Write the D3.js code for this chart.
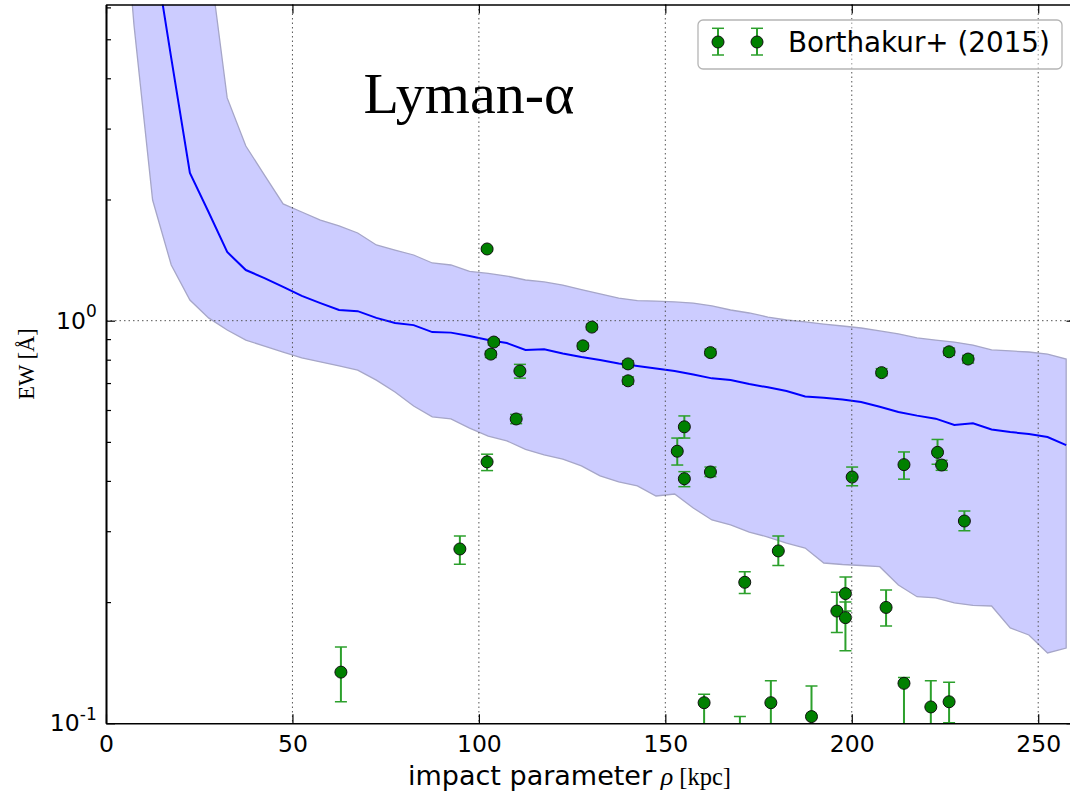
<!DOCTYPE html>
<html><head><meta charset="utf-8">
<script src="https://cdn.jsdelivr.net/npm/d3@7"></script>
<style>body{margin:0;background:#fff}</style>
</head><body><svg id="c" width="1070" height="798"></svg>
<script>
// Model curve: impact parameter grid (kpc), median EW and band edges (Å)
const rho = [2.5,7.5,12.5,17.5,22.5,27.5,32.5,37.5,42.5,47.5,52.5,57.5,62.5,67.5,72.5,77.5,82.5,87.5,92.5,97.5,102.5,107.5,112.5,117.5,122.5,127.5,132.5,137.5,142.5,147.5,152.5,157.5,162.5,167.5,172.5,177.5,182.5,187.5,192.5,197.5,202.5,207.5,212.5,217.5,222.5,227.5,232.5,237.5,242.5,247.5,252.5,257.5];
const ewMedian = [40,20,8.77,4.49,2.327,1.862,1.481,1.336,1.276,1.213,1.152,1.106,1.063,1.056,1.016,0.987,0.975,0.937,0.934,0.916,0.895,0.880,0.846,0.849,0.829,0.812,0.799,0.783,0.772,0.761,0.750,0.735,0.719,0.712,0.696,0.683,0.669,0.648,0.644,0.637,0.628,0.611,0.593,0.581,0.571,0.551,0.556,0.537,0.529,0.523,0.514,0.491];
const ewUpper = [80,60,40,25,14.8,8.18,3.575,2.716,2.30,1.950,1.862,1.778,1.719,1.651,1.542,1.498,1.456,1.391,1.375,1.325,1.310,1.291,1.262,1.248,1.226,1.195,1.165,1.138,1.122,1.119,1.113,1.106,1.088,1.063,1.045,1.021,1.004,0.993,0.981,0.970,0.959,0.943,0.927,0.906,0.895,0.885,0.870,0.846,0.841,0.836,0.826,0.803];
const ewLower = [20,5.43,1.994,1.375,1.125,1.016,0.948,0.895,0.865,0.836,0.808,0.790,0.772,0.754,0.712,0.665,0.614,0.577,0.570,0.541,0.517,0.503,0.479,0.464,0.453,0.436,0.4115,0.3977,0.3887,0.3669,0.3711,0.3426,0.3199,0.3109,0.2986,0.2902,0.2804,0.2725,0.2501,0.2480,0.2466,0.2449,0.2205,0.2063,0.2048,0.1990,0.1962,0.1956,0.1725,0.1657,0.1495,0.1538];

// Borthakur+ (2015) observations
const obsRho = [63.0,94.9,102.2,102.2,103.2,104.0,110.0,111.0,127.9,130.3,140.0,140.0,162.1,208.0,155.1,153.2,155.1,162.1,200.1,214.0,223.0,224.1,226.1,231.2,230.2,180.3,171.3,196.0,198.3,198.3,209.2,160.4,170.0,178.3,189.2,214.0,221.2,226.1];
const obsEW  = [0.134,0.271,1.507,0.446,0.826,0.885,0.570,0.750,0.866,0.964,0.781,0.709,0.833,0.743,0.545,0.474,0.405,0.421,0.409,0.439,0.471,0.438,0.837,0.803,0.318,0.268,0.224,0.190,0.210,0.183,0.194,0.1125,0.085,0.1125,0.1039,0.1257,0.1098,0.1131];
const obsLo  = [0.1131,0.2483,1.49,0.4243,0.81,0.87,0.555,0.72,0.85,0.95,0.765,0.695,0.82,0.73,0.511,0.438,0.387,0.41,0.389,0.404,0.44,0.425,0.82,0.785,0.3008,0.2466,0.210,0.168,0.19,0.1515,0.1745,0.08,0.07,0.08,0.08,0.07,0.08,0.1003];
const obsHi  = [0.1547,0.292,1.52,0.466,0.84,0.90,0.585,0.779,0.88,0.98,0.795,0.725,0.85,0.76,0.580,0.511,0.4217,0.433,0.433,0.472,0.507,0.45,0.855,0.82,0.3367,0.292,0.238,0.2116,0.231,0.20,0.2144,0.118,0.1039,0.1276,0.1238,0.13,0.1276,0.1265];

const xTicks = [0,50,100,150,200,250];
const yTicks = [0.1,1];
const yTickBase = ["10","10"];
const yTickExp = ["-1","0"];
const yMinor = [0.2,0.3,0.4,0.5,0.6,0.7,0.8,0.9,2,3,4,5,6];
const legendLabel = "Borthakur+ (2015)";
const titleText = "Lyman-α";

const svg = d3.select('#c');
const L = 106, R = 1075.5, T = 4.5, B = 723.3;
const x = d3.scaleLinear().domain([0,260]).range([L,R]);
const y = d3.scaleLog().domain([0.1,6.1]).range([B,T]);

svg.append('defs').append('clipPath').attr('id','clip')
  .append('rect').attr('x',L).attr('y',T).attr('width',R-L).attr('height',B-T);

const plot = svg.append('g').attr('clip-path','url(#clip)');

const model = rho.map((r,i)=>({r, m:ewMedian[i], lo:ewLower[i], hi:ewUpper[i]}));
plot.append('path').datum(model)
  .attr('d', d3.area().x(d=>x(d.r)).y0(d=>y(d.lo)).y1(d=>y(d.hi)))
  .attr('fill','#ccccff').attr('stroke','#a6a6c8').attr('stroke-width',1.3);
plot.append('path').datum(model)
  .attr('d', d3.line().x(d=>x(d.r)).y(d=>y(d.m)))
  .attr('fill','none').attr('stroke','#0000ff').attr('stroke-width',2);

const obs = obsRho.map((r,i)=>({r, v:obsEW[i], lo:obsLo[i], hi:obsHi[i]}));
const eCol = '#2ca02c', cap = 6;
const eb = plot.append('g');
obs.forEach(d=>{
  const cx = x(d.r);
  eb.append('line').attr('x1',cx).attr('x2',cx).attr('y1',y(d.lo)).attr('y2',y(d.hi)).attr('stroke',eCol).attr('stroke-width',2);
  [d.lo,d.hi].forEach(v=>eb.append('line').attr('x1',cx-cap).attr('x2',cx+cap).attr('y1',y(v)).attr('y2',y(v)).attr('stroke',eCol).attr('stroke-width',1.5));
});
plot.append('g').selectAll('circle').data(obs).join('circle')
  .attr('cx',d=>x(d.r)).attr('cy',d=>y(d.v)).attr('r',6)
  .attr('fill','#008000').attr('stroke','#111').attr('stroke-width',1);

// grid
const grid = svg.append('g').attr('stroke','#555').attr('stroke-width',1).attr('stroke-dasharray','1.5,3');
xTicks.filter(t=>t>0).forEach(t=>grid.append('line').attr('x1',x(t)).attr('x2',x(t)).attr('y1',T).attr('y2',B));
yTicks.filter(t=>t>0.1).forEach(t=>grid.append('line').attr('x1',L).attr('x2',R).attr('y1',y(t)).attr('y2',y(t)));

// axes
const fontTick = 'DejaVu Sans';
const gx = svg.append('g').attr('transform',`translate(0,${B})`)
  .call(d3.axisBottom(x).tickValues(xTicks).tickSizeInner(-9).tickSizeOuter(0).tickPadding(12).tickFormat(d3.format('d')));
const gxt = svg.append('g').attr('transform',`translate(0,${T})`)
  .call(d3.axisTop(x).tickValues(xTicks).tickSizeInner(-9).tickSizeOuter(0).tickFormat(''));
const gy = svg.append('g').attr('transform',`translate(${L},0)`)
  .call(d3.axisLeft(y).tickValues(yTicks).tickSizeInner(-9).tickSizeOuter(0).tickPadding(9.3).tickFormat(''));
const gym = svg.append('g').attr('transform',`translate(${L},0)`)
  .call(d3.axisLeft(y).tickValues(yMinor).tickSizeInner(-5).tickSizeOuter(0).tickFormat(''));
const gyr = svg.append('g').attr('transform',`translate(${R},0)`)
  .call(d3.axisRight(y).tickValues(yTicks).tickSizeInner(-9).tickSizeOuter(0).tickFormat(''));
[gx,gxt,gy,gym,gyr].forEach(g=>{
  g.select('.domain').attr('stroke','#000').attr('stroke-width',1.6);
  g.selectAll('.tick line').attr('stroke','#000').attr('stroke-width',1.2);
  g.selectAll('text').attr('font-family',fontTick).attr('font-size',23.5).attr('fill','#000');
});
gy.selectAll('.tick text').each(function(d,i){
  const t = d3.select(this).text('');
  t.append('tspan').text(yTickBase[i]);
  t.append('tspan').attr('font-size',17).attr('dy',-11.6).text(yTickExp[i]);
});

// labels
const xl = svg.append('text').attr('x',408).attr('y',785).attr('text-anchor','start').attr('font-size',27).attr('fill','#000');
xl.append('tspan').attr('font-family','DejaVu Sans').text('impact parameter ');
xl.append('tspan').attr('font-family','Liberation Serif').attr('font-style','italic').attr('font-size',26).text('ρ');
xl.append('tspan').attr('font-family','Liberation Serif').attr('font-size',24.5).text(' [kpc]');

svg.append('text').attr('transform','translate(34,364) rotate(-90)').attr('text-anchor','middle')
  .attr('font-family','Liberation Serif').attr('font-size',22.5).attr('fill','#000').text('EW [Å]');

svg.append('text').attr('x',469).attr('y',113).attr('text-anchor','middle')
  .attr('font-family','Liberation Serif').attr('font-size',58).attr('fill','#000').text(titleText);

// legend
const lg = svg.append('g');
lg.append('rect').attr('x',698).attr('y',20).attr('width',364).attr('height',49).attr('rx',5)
  .attr('fill','#fff').attr('fill-opacity',0.4).attr('stroke','#b5b5b5').attr('stroke-width',1.3);
[718,757].forEach(cx=>{
  lg.append('line').attr('x1',cx).attr('x2',cx).attr('y1',28.3).attr('y2',55).attr('stroke',eCol).attr('stroke-width',2);
  [28.3,55].forEach(yy=>lg.append('line').attr('x1',cx-cap).attr('x2',cx+cap).attr('y1',yy).attr('y2',yy).attr('stroke',eCol).attr('stroke-width',1.5));
  lg.append('circle').attr('cx',cx).attr('cy',42).attr('r',6).attr('fill','#008000').attr('stroke','#111').attr('stroke-width',1);
});
lg.append('text').attr('x',788).attr('y',51.5).attr('font-family','DejaVu Sans').attr('font-size',27.8).attr('fill','#000').text(legendLabel);
</script></body></html>
